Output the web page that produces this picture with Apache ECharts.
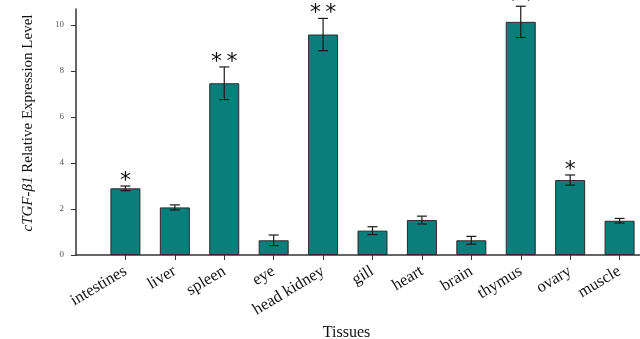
<!DOCTYPE html>
<html><head><meta charset="utf-8">
<script src="https://cdn.jsdelivr.net/npm/echarts@6/dist/echarts.min.js"></script>
<style>html,body{margin:0;padding:0;background:#fff}#c{width:640px;height:339px}</style>
</head><body><div id="c"></div>
<script>
const tissues = ['intestines','liver','spleen','eye','head kidney','gill','heart','brain','thymus','ovary','muscle'];
const expression = [2.90, 2.07, 7.47, 0.64, 9.59, 1.06, 1.52, 0.64, 10.14, 3.26, 1.49];
const errors = [0.10, 0.11, 0.71, 0.23, 0.70, 0.17, 0.17, 0.17, 0.68, 0.22, 0.10];
const significance = ['*','','**','','**','','','','**','*',''];
const yTicks = [0, 2, 4, 6, 8, 10];
const yMax = 10.7;

// empty slots at both ends of the category axis (as in the original plot)
const axisCategories = [''].concat(tissues, ['']);
const barData = expression.map((v, i) => [i + 1, v]);
const errData = expression.map((v, i) => [i + 1, v, errors[i]]);

const serif = 'Liberation Serif';
const chart = echarts.init(document.getElementById('c'), null, {renderer: 'canvas'});
const showCat = (idx, val) => val !== '';

chart.setOption({
  animation: false,
  backgroundColor: '#ffffff',
  grid: {left: 76, right: -29, top: 9, bottom: 84, containLabel: false, outerBoundsMode: 'none'},
  xAxis: {
    type: 'category',
    data: axisCategories,
    boundaryGap: false,
    axisLine: {show: true, lineStyle: {color: '#333', width: 1.5}},
    axisTick: {show: true, interval: showCat, length: 5, lineStyle: {color: '#333', width: 1}},
    axisLabel: {interval: showCat, rotate: 31, margin: 15, fontFamily: serif, fontSize: 16.5, color: '#111'},
    splitLine: {show: false},
    name: 'Tissues',
    nameLocation: 'middle',
    nameGap: 67,
    nameTextStyle: {fontFamily: serif, fontSize: 16, color: '#111', padding: [0, 52, 0, 0]}
  },
  yAxis: {
    type: 'value',
    min: 0,
    max: yMax,
    axisLine: {show: true, lineStyle: {color: '#333', width: 1.5}},
    axisTick: {show: true, customValues: yTicks, length: 5, lineStyle: {color: '#333', width: 1}},
    axisLabel: {customValues: yTicks, margin: 12, fontFamily: serif, fontSize: 9, color: '#555'},
    splitLine: {show: false},
    name: '{i|cTGF-β1} Relative Expression Level',
    nameLocation: 'middle',
    nameGap: 40,
    nameTextStyle: {
      fontFamily: serif, fontSize: 15, color: '#111', padding: [0, 0, 0, 18],
      rich: {i: {fontFamily: serif, fontSize: 15, fontStyle: 'italic', color: '#111'}}
    }
  },
  series: [
    {
      type: 'bar',
      data: barData,
      barWidth: 30,
      itemStyle: {color: '#0a7e7a', borderColor: '#2a2a2a', borderWidth: 1}
    },
    {
      type: 'custom',
      data: errData,
      z: 3,
      renderItem: function (params, api) {
        const x = api.value(0), v = api.value(1), e = api.value(2);
        const hi = api.coord([x, v + e]);
        const lo = api.coord([x, v - e]);
        const cap = 5;
        const ls = {stroke: '#1a1a1a', lineWidth: 1.2};
        const children = [
          {type: 'line', shape: {x1: hi[0], y1: hi[1], x2: lo[0], y2: lo[1]}, style: ls},
          {type: 'line', shape: {x1: hi[0] - cap, y1: hi[1], x2: hi[0] + cap, y2: hi[1]}, style: ls},
          {type: 'line', shape: {x1: lo[0] - cap, y1: lo[1], x2: lo[0] + cap, y2: lo[1]}, style: ls}
        ];
        const sig = significance[params.dataIndex];
        if (sig) {
          children.push({
            type: 'text', x: hi[0], y: hi[1] - 5,
            style: {text: sig.split('').join('\u2009'), fontFamily: 'DejaVu Sans', fontSize: 22,
                    fill: '#111', align: 'center', verticalAlign: 'middle'}
          });
        }
        return {type: 'group', children: children};
      }
    }
  ]
});
</script>
</body></html>
